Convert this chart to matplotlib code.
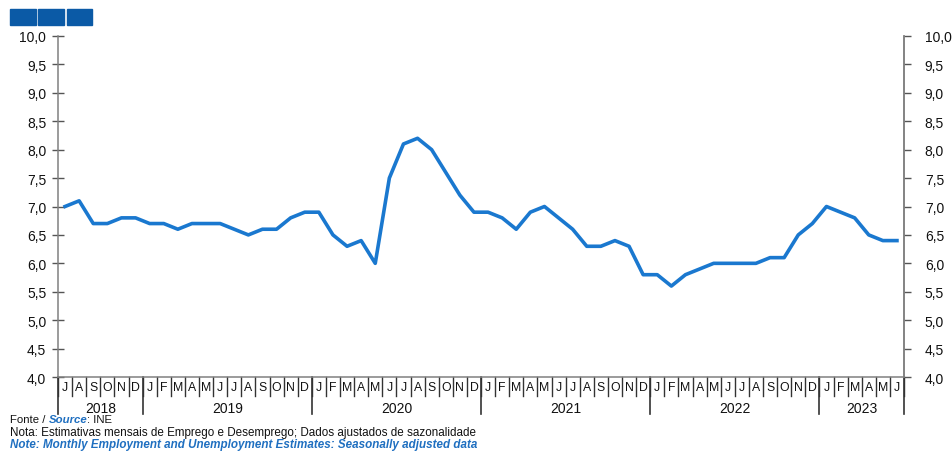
import matplotlib
matplotlib.use("Agg")
import matplotlib.pyplot as plt
from matplotlib.patches import Rectangle
import matplotlib.transforms as mtransforms

plt.rcParams['font.family'] = ['Liberation Sans', 'DejaVu Sans']

# ---- data ----
years = ["2018", "2019", "2020", "2021", "2022", "2023"]
months_per_year = [6, 12, 12, 12, 12, 6]
month_letters = (["J", "A", "S", "O", "N", "D"]
                 + ["J", "F", "M", "A", "M", "J", "J", "A", "S", "O", "N", "D"] * 4
                 + ["J", "F", "M", "A", "M", "J"])
values = [
    7.0, 7.1, 6.7, 6.7, 6.8, 6.8,                                # 2018 Jul-Dec
    6.7, 6.7, 6.6, 6.7, 6.7, 6.7, 6.6, 6.5, 6.6, 6.6, 6.8, 6.9,  # 2019
    6.9, 6.5, 6.3, 6.4, 6.0, 7.5, 8.1, 8.2, 8.0, 7.6, 7.2, 6.9,  # 2020
    6.9, 6.8, 6.6, 6.9, 7.0, 6.8, 6.6, 6.3, 6.3, 6.4, 6.3, 5.8,  # 2021
    5.8, 5.6, 5.8, 5.9, 6.0, 6.0, 6.0, 6.0, 6.1, 6.1, 6.5, 6.7,  # 2022
    7.0, 6.9, 6.8, 6.5, 6.4, 6.4,                                # 2023 Jan-Jun
]
yticks = [4.0, 4.5, 5.0, 5.5, 6.0, 6.5, 7.0, 7.5, 8.0, 8.5, 9.0, 9.5, 10.0]
ytick_labels = [f"{v:.1f}".replace(".", ",") for v in yticks]

W, H = 952, 452
fig = plt.figure(figsize=(W / 100, H / 100), dpi=100)
L, R, T, B = 58, 904, 37, 378
ax = fig.add_axes([L / W, (H - B) / H, (R - L) / W, (B - T) / H])

n = len(values)
xs = [i + 0.5 for i in range(n)]
ax.plot(xs, values, color="#1a78cf", lw=2.6, solid_joinstyle="round", clip_on=False, zorder=3)
ax.set_xlim(0, n)
ax.set_ylim(4.0, 10.0)

grey = "#808080"
ax.spines["top"].set_visible(False)
for s in ["left", "right", "bottom"]:
    ax.spines[s].set_color(grey)
    ax.spines[s].set_linewidth(1.1)

ax.set_yticks(yticks)
ax.set_yticklabels(ytick_labels)
ax.tick_params(axis="y", left=True, right=False, labelleft=True, labelright=False,
               direction="inout", length=9, width=1.0, color="#555555",
               labelsize=10, pad=4, labelcolor="#111111")
ax.set_xticks([])

ax2 = ax.twinx()
ax2.set_ylim(4.0, 10.0)
ax2.set_yticks(yticks)
ax2.set_yticklabels(ytick_labels)
for s in ["top", "left", "bottom"]:
    ax2.spines[s].set_visible(False)
ax2.spines["right"].set_color(grey)
ax2.spines["right"].set_linewidth(1.1)
ax2.tick_params(axis="y", direction="out", length=5, width=1.0, color="#555555",
                labelsize=10, pad=10, labelcolor="#111111")

trans = mtransforms.blended_transform_factory(ax.transData, ax.transAxes)
ph = (B - T)
month_sep = -19 / ph
year_sep = -37 / ph

# month separators and labels
for i in range(n + 1):
    ax.plot([i, i], [0, month_sep], color="#333333", lw=1.0, transform=trans, clip_on=False)
for i, m in enumerate(month_letters):
    ax.text(i + 0.5, -10.5 / ph, m, transform=trans, ha="center", va="center",
            fontsize=8.8, color="#111111")

# year separators and labels
start = 0
bounds = [0]
for cnt in months_per_year:
    start += cnt
    bounds.append(start)
for b in bounds:
    ax.plot([b, b], [0, year_sep], color="#333333", lw=1.2, transform=trans, clip_on=False)
for k, yr in enumerate(years):
    c = (bounds[k] + bounds[k + 1]) / 2
    ax.text(c, -31 / ph, yr, transform=trans, ha="center", va="center",
            fontsize=10, color="#111111")

# top-left squares
sq_color = "#0b5aa6"
for x0, x1 in [(10, 36), (38, 64), (67, 92)]:
    fig.patches.append(Rectangle((x0 / W, (H - 26) / H), (x1 - x0) / W, 16 / H,
                                 transform=fig.transFigure, color=sq_color, zorder=5))

# footer
blue = "#1f6fc0"
fig.canvas.draw()
renderer = fig.canvas.get_renderer()

def seq_text(x_px, y_px, parts):
    x = x_px
    for txt, kw in parts:
        t = fig.text(x / W, (H - y_px) / H, txt, va="center", ha="left", **kw)
        bb = t.get_window_extent(renderer=renderer)
        x += bb.width

seq_text(10, 420, [("Fonte / ", dict(fontsize=8.2, color="#111111")),
                   ("Source", dict(fontsize=8.2, color=blue, fontweight="bold", fontstyle="italic")),
                   (": INE", dict(fontsize=8.2, color="#111111"))])
fig.text(10 / W, (H - 433) / H,
         "Nota: Estimativas mensais de Emprego e Desemprego; Dados ajustados de sazonalidade",
         fontsize=8.4, color="#111111", va="center", ha="left")
fig.text(10 / W, (H - 445) / H,
         "Note: Monthly Employment and Unemployment Estimates: Seasonally adjusted data",
         fontsize=8.4, color=blue, fontweight="bold", fontstyle="italic", va="center", ha="left")

fig.savefig("out.png", dpi=100)
